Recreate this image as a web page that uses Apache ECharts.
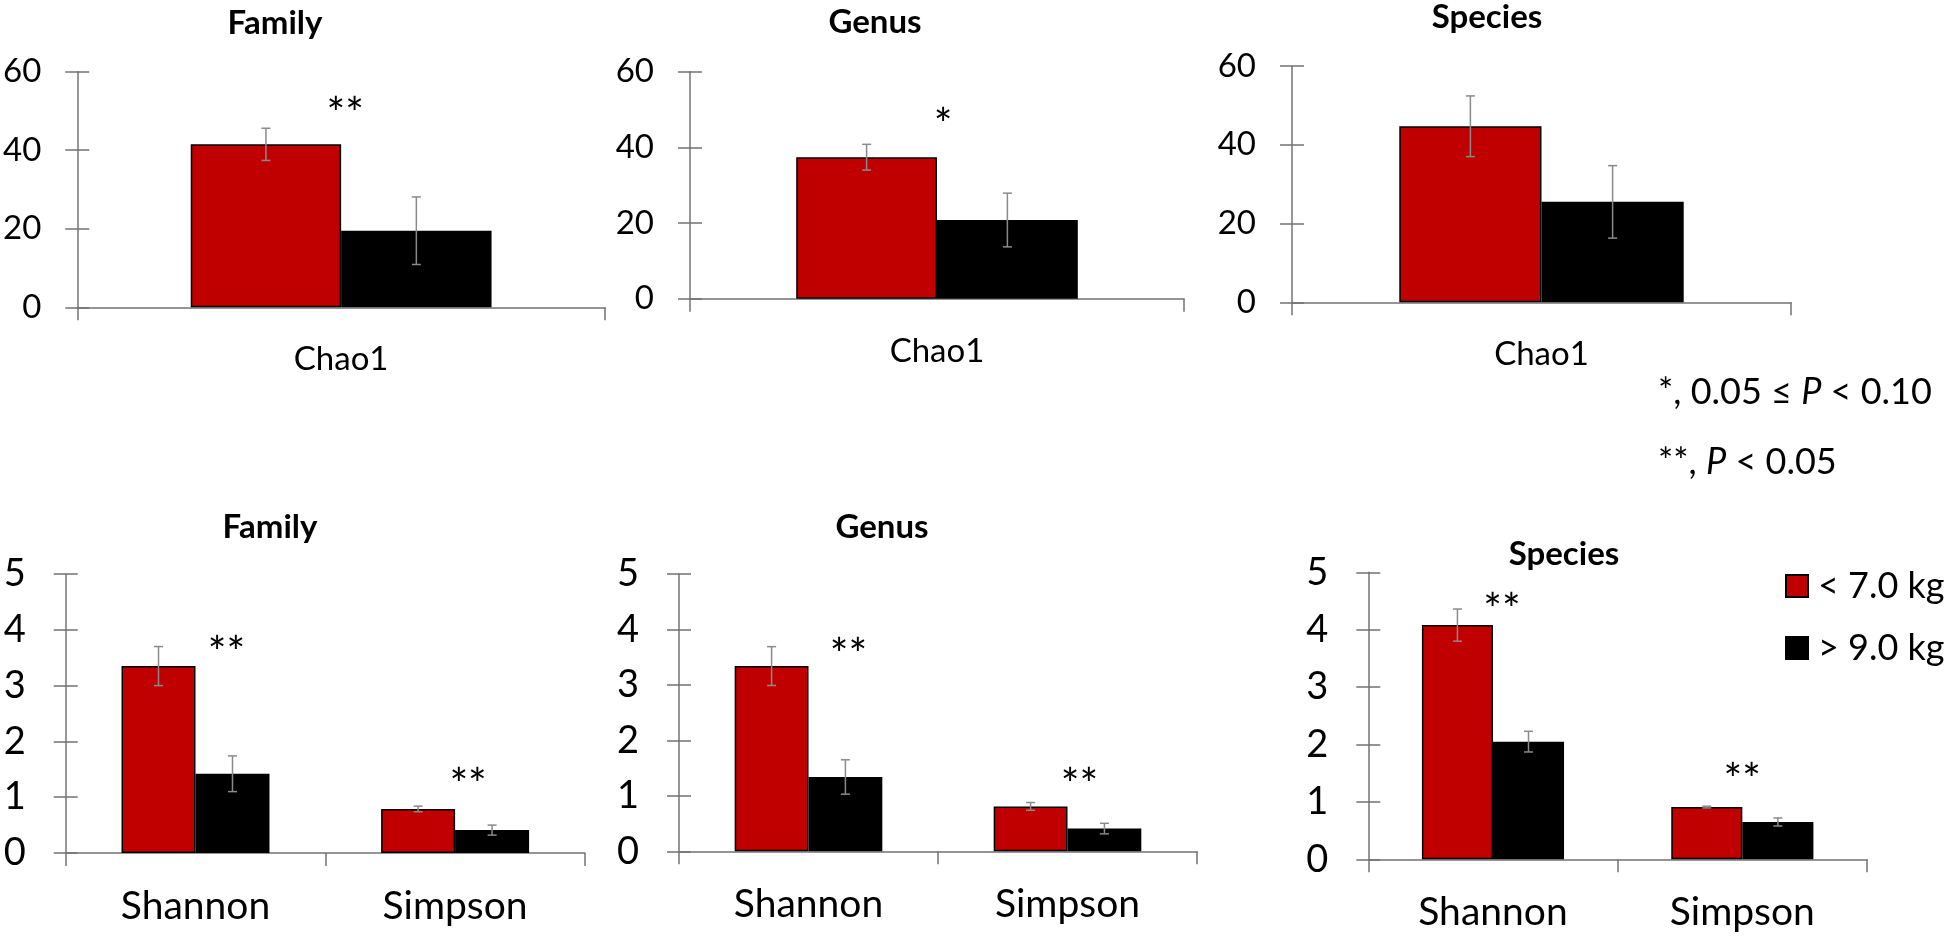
<!DOCTYPE html>
<html><head><meta charset="utf-8">
<script src="https://cdn.jsdelivr.net/npm/echarts@6/dist/echarts.min.js"></script>
<style>html,body{margin:0;padding:0;background:#fff}#c{width:1946px;height:936px}</style>
</head><body><div id="c"></div>
<script>
// ---------------- DATA ----------------
const panelTitles = ['Family', 'Genus', 'Species'];
const topCategories = ['Chao1'];
const bottomCategories = ['Shannon', 'Simpson'];
const seriesNames = ['< 7.0 kg', '> 9.0 kg'];
const topAxis = { min: 0, max: 60, interval: 20 };
const bottomAxis = { min: 0, max: 5, interval: 1 };

// Chao1, order: Family, Genus, Species
const chao1Light = [41.5, 37.4, 44.7];
const chao1LightErr = [4.1, 3.4, 7.7];
const chao1Heavy = [19.5, 20.8, 25.5];
const chao1HeavyErr = [8.6, 7.1, 9.2];
const chao1Sig = ['**', '*', ''];
const chao1SigY = [51.2, 48, null];

// Shannon, Simpson
const familyLight = [3.35, 0.79];
const familyLightErr = [0.35, 0.05];
const familyHeavy = [1.42, 0.41];
const familyHeavyErr = [0.32, 0.09];
const familySig = ['**', '**'];
const familySigY = [3.73, 1.37];

const genusLight = [3.34, 0.81];
const genusLightErr = [0.35, 0.07];
const genusHeavy = [1.34, 0.41];
const genusHeavyErr = [0.31, 0.095];
const genusSig = ['**', '**'];
const genusSigY = [3.69, 1.34];

const speciesLight = [4.08, 0.91];
const speciesLightErr = [0.28, 0.015];
const speciesHeavy = [2.05, 0.65];
const speciesHeavyErr = [0.18, 0.07];
const speciesSig = ['**', '**'];
const speciesSigY = [4.49, 1.53];

const pNotes = [['*, 0.05 ≤ ', 'P', ' < 0.10'], ['**, ', 'P', ' < 0.05']];

// ---------------- LAYOUT / STYLE ----------------
const FONT = 'Lato';
const RED = '#C00000', BLACK = '#000000', AXIS = '#737373', ERR = '#8a8a8a';
const CAT_GAP = 0.43;
const layout = [
  { grid: { left: 74, top: 71.7, width: 531, height: 235.6 }, title: [275, 23], sigDx: [4] },
  { grid: { left: 690, top: 71.7, width: 494, height: 227 }, title: [875, 22], sigDx: [6] },
  { grid: { left: 1292, top: 66, width: 499, height: 236.3 }, title: [1487, 17], sigDx: [0] },
  { grid: { left: 65.7, top: 574, width: 519.2, height: 279 }, title: [270, 527], sigDx: [31, 13] },
  { grid: { left: 679, top: 574, width: 518, height: 277.3 }, title: [882, 527], sigDx: [40, 12] },
  { grid: { left: 1368.3, top: 572.3, width: 498.7, height: 287 }, title: [1564, 554], sigDx: [9, 0] }
];

// ---------------- BUILD ----------------
const panels = [];
for (let k = 0; k < 3; k++) {
  panels.push({
    cats: topCategories, axis: topAxis, top: true,
    light: [chao1Light[k]], lightErr: [chao1LightErr[k]],
    heavy: [chao1Heavy[k]], heavyErr: [chao1HeavyErr[k]],
    sig: [chao1Sig[k]], sigY: [chao1SigY[k]], title: panelTitles[k]
  });
}
const bottomSets = [
  [familyLight, familyLightErr, familyHeavy, familyHeavyErr, familySig, familySigY],
  [genusLight, genusLightErr, genusHeavy, genusHeavyErr, genusSig, genusSigY],
  [speciesLight, speciesLightErr, speciesHeavy, speciesHeavyErr, speciesSig, speciesSigY]
];
bottomSets.forEach((s, k) => {
  panels.push({
    cats: bottomCategories, axis: bottomAxis, top: false,
    light: s[0], lightErr: s[1], heavy: s[2], heavyErr: s[3], sig: s[4], sigY: s[5],
    title: panelTitles[k]
  });
});

const grid = [], xAxis = [], yAxis = [], series = [], graphic = [];
panels.forEach((p, gi) => {
  const L = layout[gi];
  const tickFont = p.top ? 33 : 38;
  const catFont = p.top ? 33 : 39;
  grid.push(Object.assign({ containLabel: false }, L.grid));
  xAxis.push({
    type: 'category', gridIndex: gi, data: p.cats,
    axisLine: { show: true, lineStyle: { color: AXIS, width: 1.5 } },
    axisTick: { show: true, length: 13, lineStyle: { color: AXIS, width: 1.5 } },
    axisLabel: { fontSize: catFont, fontFamily: FONT, color: '#000', margin: p.top ? 36 : 34 },
    splitLine: { show: false }
  });
  const yBase = {
    type: 'value', gridIndex: gi, position: 'left',
    min: p.axis.min, max: p.axis.max, interval: p.axis.interval,
    splitLine: { show: false }
  };
  yAxis.push(Object.assign({}, yBase, {
    axisLine: { show: true, lineStyle: { color: AXIS, width: 1.5 } },
    axisTick: { show: true, inside: false, length: 12, lineStyle: { color: AXIS, width: 1.5 } },
    axisLabel: { fontSize: tickFont, fontFamily: FONT, color: '#000', margin: p.top ? 36 : 40 }
  }));
  yAxis.push(Object.assign({}, yBase, {
    axisLine: { show: false },
    axisTick: { show: true, inside: true, length: 12, lineStyle: { color: AXIS, width: 1.5 } },
    axisLabel: { show: false }
  }));
  const common = { type: 'bar', xAxisIndex: gi, yAxisIndex: 2 * gi, barGap: '0%',
    barCategoryGap: (CAT_GAP * 100) + '%', z: 2, animation: false };
  series.push(Object.assign({}, common, { name: seriesNames[0], data: p.light,
    itemStyle: { color: RED, borderColor: '#000', borderWidth: 1.5 } }));
  series.push(Object.assign({}, common, { name: seriesNames[1], data: p.heavy,
    itemStyle: { color: BLACK, borderColor: '#000', borderWidth: 1.5 } }));

  const errData = [];
  p.light.forEach((v, i) => errData.push([i, v, p.lightErr[i], -1]));
  p.heavy.forEach((v, i) => errData.push([i, v, p.heavyErr[i], 1]));
  series.push({
    type: 'custom', name: 'err' + gi, xAxisIndex: gi, yAxisIndex: 2 * gi, z: 5,
    animation: false, encode: { x: 0, y: 1 }, data: errData,
    renderItem: function (params, api) {
      const band = api.size([1, 0])[0];
      const bw = band * (1 - CAT_GAP) / 2;
      const c = api.value(0), v = api.value(1), e = api.value(2), s = api.value(3);
      const t = api.coord([c, v + e]);
      const b = api.coord([c, v - e]);
      const x = t[0] + s * bw / 2;
      const st = { stroke: ERR, lineWidth: 1.5 };
      return { type: 'group', children: [
        { type: 'line', shape: { x1: x, y1: t[1], x2: x, y2: b[1] }, style: st },
        { type: 'line', shape: { x1: x - 4.5, y1: t[1], x2: x + 4.5, y2: t[1] }, style: st },
        { type: 'line', shape: { x1: x - 4.5, y1: b[1], x2: x + 4.5, y2: b[1] }, style: st }
      ] };
    }
  });

  const sigData = [], sigText = [], sigDx = [];
  p.sig.forEach((s, i) => {
    if (s && p.sigY[i] != null) { sigData.push([i, p.sigY[i]]); sigText.push(s); sigDx.push(L.sigDx[i] || 0); }
  });
  if (sigData.length) {
    series.push({
      type: 'custom', name: 'sig' + gi, xAxisIndex: gi, yAxisIndex: 2 * gi, z: 6,
      animation: false, encode: { x: 0, y: 1 }, data: sigData,
      renderItem: function (params, api) {
        const pt = api.coord([api.value(0), api.value(1)]);
        return { type: 'text', x: pt[0] + sigDx[params.dataIndex], y: pt[1] + 9,
          style: { text: sigText[params.dataIndex], font: '44px ' + FONT, fill: '#000',
            align: 'center', verticalAlign: 'middle' } };
      }
    });
  }
  graphic.push({ type: 'text', x: L.title[0], y: L.title[1],
    style: { text: p.title, font: 'bold 33px ' + FONT, fill: '#000', align: 'center', verticalAlign: 'middle' } });
});

const pY = [392, 462];
pNotes.forEach((n, i) => {
  graphic.push({ type: 'text', x: 1658, y: pY[i],
    style: { text: '{a|' + n[0] + '}{i|' + n[1] + '}{a|' + n[2] + '}',
      verticalAlign: 'middle', align: 'left',
      rich: { a: { fontSize: 36, fontFamily: FONT, color: '#000' },
              i: { fontSize: 36, fontFamily: FONT, fontStyle: 'italic', color: '#000' } } } });
});

const chart = echarts.init(document.getElementById('c'), null, { renderer: 'canvas' });
chart.setOption({
  backgroundColor: '#fff',
  animation: false,
  grid, xAxis, yAxis, series, graphic,
  legend: {
    data: seriesNames, orient: 'vertical', left: 1780, top: 563,
    itemWidth: 22, itemHeight: 22, itemGap: 26, icon: 'rect', selectedMode: false,
    textStyle: { fontSize: 36, fontFamily: FONT, color: '#000', padding: [0, 0, 0, 5] }
  }
});
</script></body></html>
